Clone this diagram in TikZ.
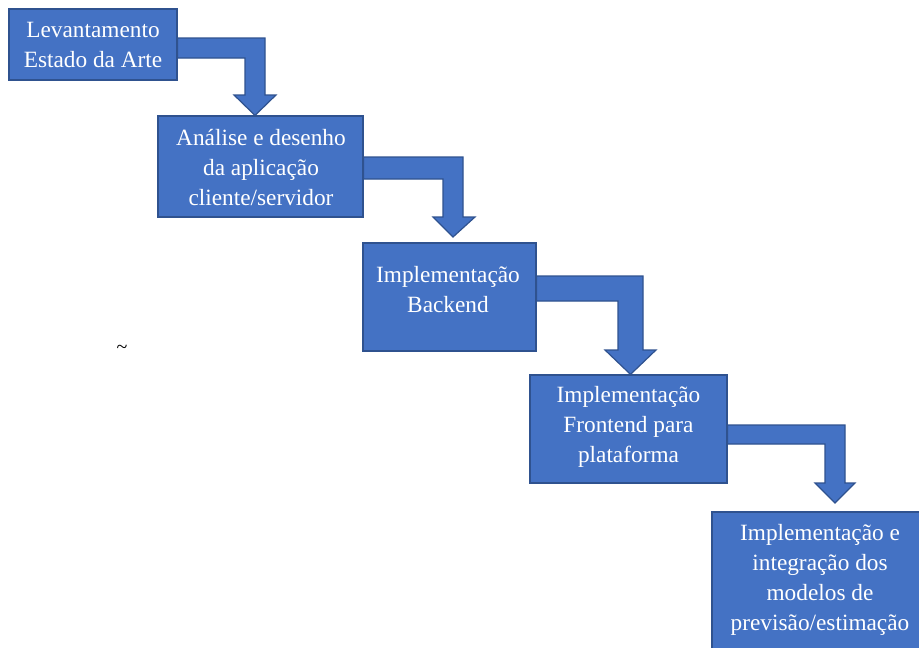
\documentclass[tikz,border=0pt]{standalone}
\usepackage{fontspec}
\setmainfont{Liberation Serif}
\usetikzlibrary{backgrounds}
\definecolor{stepfill}{HTML}{4472C4}
\definecolor{stepline}{HTML}{2F528F}
\begin{document}
\begin{tikzpicture}[x=1pt,y=-1pt,
  stagebox/.style={draw=stepline, fill=stepfill, line width=1.2pt, inner sep=0pt},
  stagetext/.style={text=white, align=center, inner sep=0pt,
    font=\fontsize{23.3}{30}\selectfont},
  flowarrow/.style={draw=stepline, fill=stepfill, line width=1.2pt, line join=miter}]
\useasboundingbox (0,0) rectangle (919,648);
\clip (0,0) rectangle (919,648);

% process stages
\node[stagebox, minimum width=168pt, minimum height=71pt]  (b1) at (93,44.5)   {};
\node[stagebox, minimum width=205pt, minimum height=101pt] (b2) at (260.5,166.5) {};
\node[stagebox, minimum width=173pt, minimum height=108pt] (b3) at (449.5,297)  {};
\node[stagebox, minimum width=197pt, minimum height=108pt] (b4) at (628.5,429)  {};
\node[stagebox, minimum width=230pt, minimum height=160pt] (b5) at (827,592)  {};

% stage labels
\node[stagetext] (t1) at (93,44.5)  {Levantamento\\Estado da Arte};
\node[stagetext] (t2) at (261,168)  {Análise e desenho\\da aplicação\\cliente/servidor};
\node[stagetext] (t3) at (448,289.5) {Implementação\\Backend};
\node[stagetext] (t4) at (628.5,427) {Implementação\\Frontend para\\plataforma};
\node[stagetext] (t5) at (820,580)  {Implementação e\\integração dos\\modelos de\\previsão/estimação};

% stray mark
\node[inner sep=0pt, font=\fontsize{20}{22}\selectfont] (tl) at (122,349) {\textasciitilde};

% bent arrows between consecutive stages
\begin{scope}[on background layer]
\draw[flowarrow] (b1.east |- 0,38) -- (265,38) -- (265,95) -- (276,95)
  -- (255,0 |- b2.north) -- (234,95) -- (245,95) -- (245,58)
  -- (b1.east |- 0,58) -- cycle;
\draw[flowarrow] (b2.east |- 0,157) -- (463,157) -- (463,217) -- (475,217)
  -- (453,237) -- (433,217) -- (443,217) -- (443,179)
  -- (b2.east |- 0,179) -- cycle;
\draw[flowarrow] (b3.east |- 0,276) -- (643,276) -- (643,350) -- (656,350)
  -- (630.5,0 |- b4.north) -- (605,350) -- (618,350) -- (618,301)
  -- (b3.east |- 0,301) -- cycle;
\draw[flowarrow] (b4.east |- 0,425) -- (845,425) -- (845,483) -- (855,483)
  -- (835,503) -- (815,483) -- (825,483) -- (825,444)
  -- (b4.east |- 0,444) -- cycle;
\end{scope}
\end{tikzpicture}
\end{document}
